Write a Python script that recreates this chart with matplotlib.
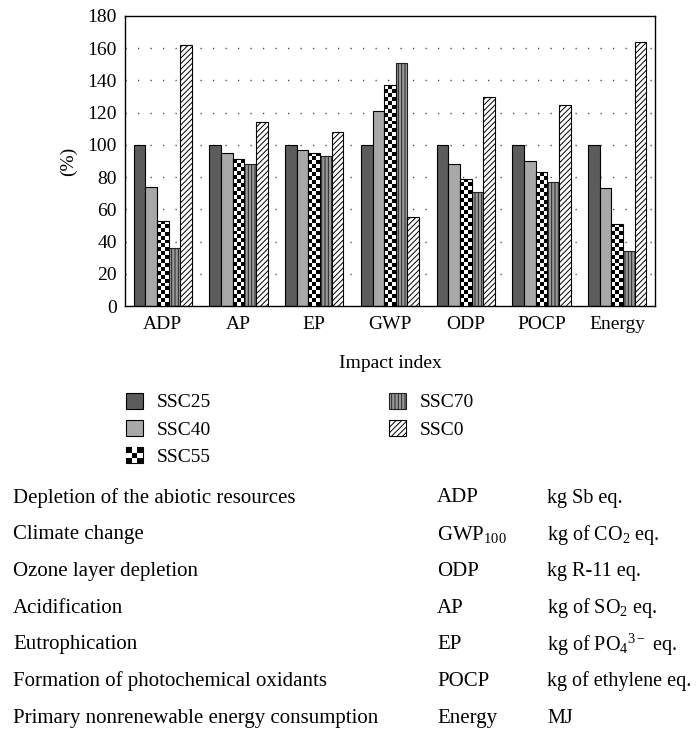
import numpy as np
import matplotlib
matplotlib.use('Agg')
import matplotlib.pyplot as plt
from matplotlib.patches import Rectangle
from matplotlib.legend_handler import HandlerBase

'''
relative impact indices of the SSC mixes (SSC25 = 100 %), plus the table of impact categories.
'''
categories = ['ADP', 'AP', 'EP', 'GWP', 'ODP', 'POCP', 'Energy']
ssc25 = [100, 100, 100, 100, 100, 100, 100]
ssc40 = [74, 95, 97, 121, 88, 90, 73]
ssc55 = [53, 91, 95, 137, 79, 83, 51]
ssc70 = [36, 88, 93, 151, 71, 77, 34]
ssc0 = [162, 114, 108, 55, 130, 125, 164]

table_names = ['Depletion of the abiotic resources', 'Climate change', 'Ozone layer depletion',
               'Acidification', 'Eutrophication', 'Formation of photochemical oxidants',
               'Primary nonrenewable energy consumption']
table_abbr = ['ADP', 'GWP$_{100}$', 'ODP', 'AP', 'EP', 'POCP', 'Energy']
table_units = ['kg Sb eq.', 'kg of CO$_2$ eq.', 'kg R-11 eq.', 'kg of SO$_2$ eq.',
               'kg of PO$_4$$^{3-}$ eq.', 'kg of ethylene eq.', 'MJ']

plt.rcParams['font.family'] = ['Liberation Serif', 'DejaVu Serif']
plt.rcParams['mathtext.fontset'] = 'custom'
plt.rcParams['mathtext.rm'] = 'Liberation Serif'
plt.rcParams['mathtext.it'] = 'Liberation Serif:italic'
plt.rcParams['hatch.linewidth'] = 0.7


class CheckerHandler(HandlerBase):
    def create_artists(self, legend, orig_handle, xdescent, ydescent, width, height, fontsize, trans):
        x0, y0 = -xdescent, -ydescent
        arts = [Rectangle((x0, y0), width, height, facecolor='black', edgecolor='black',
                          lw=0.8, transform=trans)]
        n = 3
        for i in range(n):
            for j in range(n):
                if (i + j) % 2 == 1:
                    arts.append(Rectangle((x0 + i * width / n, y0 + j * height / n), width / n,
                                          height / n, facecolor='white', lw=0, transform=trans))
        return arts


fig = plt.figure(figsize=(6.96, 7.31), dpi=100)
ax = fig.add_axes([125 / 696, 1 - 306 / 731, 530 / 696, 290 / 731])

x = np.arange(len(categories))
w = 0.154
b1 = ax.bar(x - 2 * w, ssc25, w, color='#5c5c5c', edgecolor='black', lw=0.8, label='SSC25', zorder=2)
b2 = ax.bar(x - w, ssc40, w, color='#a8a8a8', edgecolor='black', lw=0.8, label='SSC40', zorder=2)
b3 = ax.bar(x, ssc55, w, facecolor='none', edgecolor='black', lw=0.8, label='SSC55', zorder=4)
b4 = ax.bar(x + w, ssc70, w, color='#9a9a9a', edgecolor='#222222', hatch='|||||', lw=0.8,
            label='SSC70', zorder=2)
b5 = ax.bar(x + 2 * w, ssc0, w, color='white', edgecolor='black', hatch='//////', lw=0.8,
            label='SSC0', zorder=2)

# checker texture for SSC55, clipped to each bar
for rect in b3:
    x0, h, bw = rect.get_x(), rect.get_height(), rect.get_width()
    nrows = max(1, int(round(h / 2.45)))
    checker = (np.add.outer(np.arange(nrows), np.arange(3)) % 2).astype(float)
    im = ax.imshow(checker, extent=(x0, x0 + bw, 0, h), cmap='gray', vmin=0, vmax=1,
                   interpolation='nearest', aspect='auto', origin='lower', zorder=3)
    im.set_clip_path(rect)

ax.set_xlim(-0.5, len(categories) - 0.5)
ax.set_ylim(0, 180)
ax.set_yticks(np.arange(0, 181, 20))
ax.set_xticks(x)
ax.set_xticklabels(categories)
ax.tick_params('both', labelsize=14, length=0)
ax.tick_params('x', pad=7)
ax.tick_params('y', pad=6)
for yv in range(20, 180, 20):
    ax.axhline(yv, color='#444444', lw=1, ls=(0, (0.9, 8.1)), zorder=1)
for s in ax.spines.values():
    s.set_linewidth(1)
ax.set_ylabel('(%)', fontsize=14)
ax.yaxis.set_label_coords(-0.09, 0.5)
ax.set_xlabel('Impact index', fontsize=14)
ax.xaxis.set_label_coords(0.5, -0.17)

leg_kw = dict(loc='upper left', frameon=False, fontsize=14, borderpad=0, borderaxespad=0,
              handlelength=0.85, handleheight=0.85, handletextpad=0.75, labelspacing=0.45,
              handler_map={b3: CheckerHandler()})
leg1 = fig.legend([b1, b2, b3], ['SSC25', 'SSC40', 'SSC55'],
                  bbox_to_anchor=(126 / 696, 1 - 393 / 731), **leg_kw)
leg2 = fig.legend([b4, b5], ['SSC70', 'SSC0'],
                  bbox_to_anchor=(389 / 696, 1 - 393 / 731), **leg_kw)

for i in range(len(table_names)):
    yy = 1 - (498 + i * 36.7) / 731
    fig.text(13 / 696, yy, table_names[i], fontsize=15, va='center')
    fig.text(437 / 696, yy, table_abbr[i], fontsize=15, va='center')
    fig.text(547 / 696, yy, table_units[i], fontsize=14.5, va='center')

plt.savefig('out.png', dpi=100)
